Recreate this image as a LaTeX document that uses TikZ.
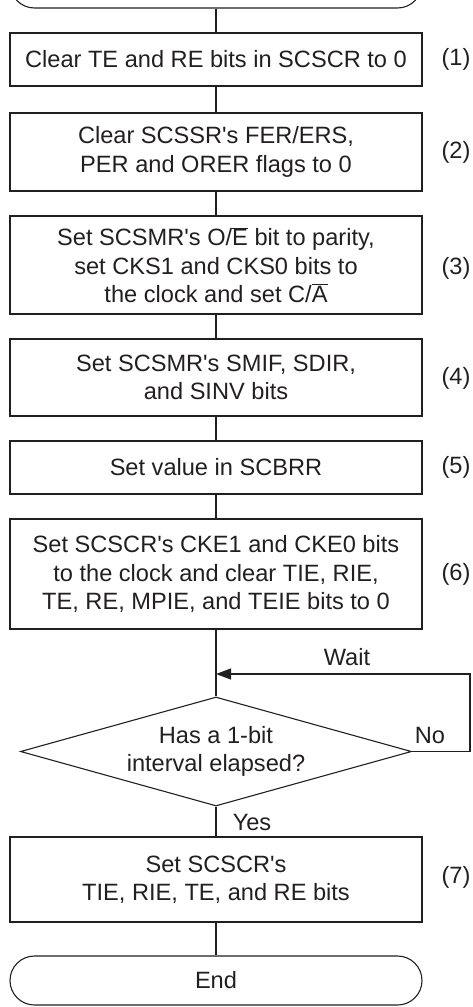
\documentclass[tikz,border=0pt]{standalone}
\usepackage{fontspec}
\setmainfont{Liberation Sans}
\usetikzlibrary{shapes.geometric,arrows.meta}
\definecolor{ink}{HTML}{231F20}
\newcommand\ovl[1]{$\overline{\hbox{#1}}$}
\newcommand\apo{\textquotesingle}
\begin{document}
\begin{tikzpicture}[x=1pt,y=-1pt,
  box/.style={draw=ink,line width=1.1pt,rectangle,minimum width=412pt,inner sep=0pt,align=center,text=ink,font=\fontsize{23.6}{28.3}\selectfont},
  term/.style={box,rounded corners=24.5pt,minimum height=49pt},
  dec/.style={draw=ink,line width=1.1pt,diamond,aspect=3.6,minimum width=391pt,minimum height=109pt,inner sep=0pt,align=center,text=ink,font=\fontsize{23.6}{28.3}\selectfont},
  lbl/.style={text=ink,font=\fontsize{23.6}{28.3}\selectfont,inner sep=0pt},
  conn/.style={draw=ink,line width=1.1pt},
  flow/.style={conn,-{Triangle[length=15pt,width=11pt]}}
]
\useasboundingbox (0,0) rectangle (473,1007);
\clip (0,0) rectangle (473,1007);
\node[term] (start) at (216,-16.5) {};
\node[box,minimum height=53pt] (b1) at (216,59.5) {Clear TE and RE bits in SCSCR to 0};
\node[box,minimum height=78pt] (b2) at (216,152) {Clear SCSSR\apo s FER/ERS,\\PER and ORER flags to 0};
\node[box,minimum height=98pt] (b3) at (216,265) {Set SCSMR\apo s O/\ovl{E} bit to parity,\\set CKS1 and CKS0 bits to\\the clock and set C/\ovl{A}};
\node[box,minimum height=77pt] (b4) at (216,377.5) {Set SCSMR\apo s SMIF, SDIR,\\and SINV bits};
\node[box,minimum height=53pt] (b5) at (216,467.5) {Set value in SCBRR};
\node[box,minimum height=110pt] (b6) at (216,574) {Set SCSCR\apo s CKE1 and CKE0 bits\\to the clock and clear TIE, RIE,\\TE, RE, MPIE, and TEIE bits to 0};
\node[dec] (d) at (216,751.5) {Has a 1-bit\\interval elapsed?};
\node[box,minimum height=85pt] (b7) at (216,879.5) {Set SCSCR\apo s\\TIE, RIE, TE, and RE bits};
\node[term] (end) at (216,980.5) {End};

\node[lbl] (n1) at (456,59.5) {(1)};
\node[lbl] (n2) at (456,152) {(2)};
\node[lbl] (n3) at (456,268) {(3)};
\node[lbl] (n4) at (456,378) {(4)};
\node[lbl] (n5) at (456,467.5) {(5)};
\node[lbl] (n6) at (456,574) {(6)};
\node[lbl] (n7) at (456,877) {(7)};

\node[lbl] (wait) at (347,657) {Wait};
\node[lbl] (no) at (430,735) {No};
\node[lbl] (yes) at (252,822) {Yes};

\draw[conn] (start.south) -- (b1.north);
\draw[conn] (b1.south) -- (b2.north);
\draw[conn] (b2.south) -- (b3.north);
\draw[conn] (b3.south) -- (b4.north);
\draw[conn] (b4.south) -- (b5.north);
\draw[conn] (b5.south) -- (b6.north);
\draw[conn] (b6.south) -- (d.north);
\coordinate (cR) at (470,751.5);
\coordinate (cT) at (470,674);
\coordinate (join) at (216,674);
\draw[flow] (d.east) -- (cR) -- (cT) -- (join);
\draw[conn] (d.south) -- (b7.north);
\draw[conn] (b7.south) -- (end.north);
\end{tikzpicture}
\end{document}
